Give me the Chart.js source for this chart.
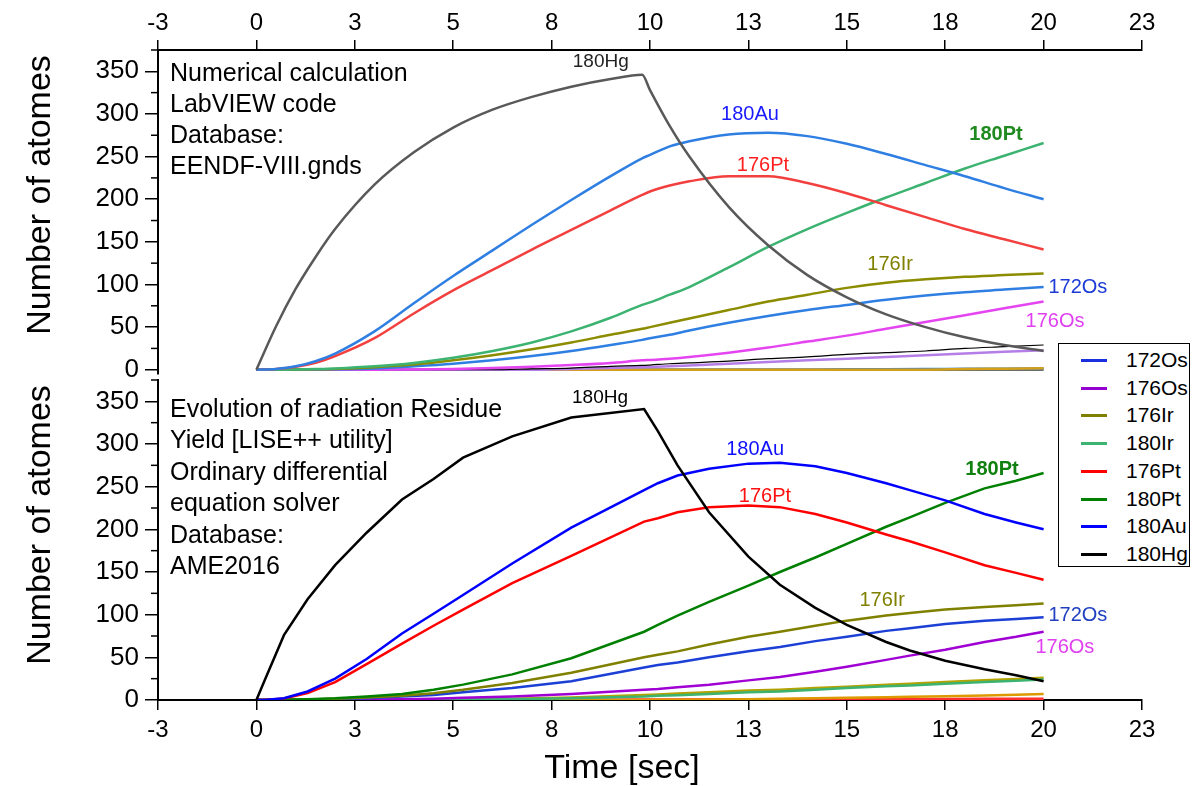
<!DOCTYPE html>
<html><head><meta charset="utf-8">
<script src="https://cdn.jsdelivr.net/npm/chart.js@4.4.1/dist/chart.umd.min.js"></script>
<style>
html,body{margin:0;padding:0;background:#fff;}
#wrap{position:relative;width:1195px;height:786px;overflow:hidden;font-family:"Liberation Sans",Arial,sans-serif;}
canvas{position:absolute;left:0;}
#cTop{top:0;}
#cBot{top:378px;}
#legend{position:absolute;left:1058px;top:343px;width:132px;height:224px;border:1.5px solid #000;background:#fff;box-sizing:border-box;}
.li{position:absolute;left:0;width:130px;height:22px;}
.li span.ln{position:absolute;left:22px;top:10px;width:26px;height:3px;}
.li span.tx{position:absolute;left:67px;top:0;font-size:21px;line-height:22px;color:#000;}
</style>
</head><body>
<div id="wrap">
<canvas id="cTop" width="1195" height="378"></canvas>
<canvas id="cBot" width="1195" height="408"></canvas>
<div id="legend"></div>
</div>
<script>
// ---------- axes ----------
const xTickValues = [-2.5,0,2.5,5,7.5,10,12.5,15,17.5,20,22.5];
const xTickLabels = ['-3','0','3','5','8','10','13','15','18','20','23'];
const yTickValues = [0,50,100,150,200,250,300,350];
const yMinorTicks = [25,75,125,175,225,275,325,375];

// ---------- top panel (numerical calculation) ----------
const tTop = [0,0.5,1,1.5,2,3,4,5,6,7,8,9,9.8,10,10.5,11,12,13,14,15,16,17,18,19,20];
const hg180Top = [0,51,95,132,165,217,255,284,305,320,332,341,346,328,286,250,191,146,111,85,65,50,38,29,22];
const au180Top = [0,1,4,10,19,45,78,110,140,170,199,227,248,252,262,268,276,278,274,265,253,240,227,213,200];
const pt176Top = [0,1,3.5,8,16,37,66,93,117,141,164,187,205,209,216,221,227,227,219,207,193,179,165,153,141];
const pt180Top = [0,0,0.3,0.8,1.5,4,8,14,22,32,45,61,76,79,88,97,120,144,165,184,202,219,236,251,266];
const ir176Top = [0,0,0.2,0.5,1,3,6,11,17,24,32,41,48,50,55,60,70,80,88,96,102,106,109,111,113];
const os172Top = [0,0,0,0.2,0.5,1.5,4,7,11,16,22,29,35,37,41,46,55,63,70,76,82,87,91,94,97];
const os176Top = [0,0,0,0,0,0.1,0.3,1,2,3.5,5.5,8,11,11.5,13,15,20,26,33,40,48,56,64,72,80];
const blackTop = [0,0,0,0,0,0,0,0,0,1,2,4,5,5.5,7,8,10,13,15,18,20,22,25,27,29];
const lilacTop = [0,0,0,0,0,0,0,0,0,0,1,2,3,3.2,4,5,7,9,11,13,15,17,19,21,23];
const blueLowTop = [0,0,0,0,0,0,0,0,0,0,0,0,0,0,0,0,0,0,0,0.5,0.7,0.9,1.1,1.3,1.5];
const orangeLowTop = [0,0,0,0,0,0,0,0,0,0,0,0,0,0,0,0,0,0,0,0,0,0,0.8,1.2,1.6];
const zeroTop = [0,0,0,0,0,0,0,0,0,0,0,0,0,0,0,0,0,0,0,0,0,0,0,0,0];

// ---------- bottom panel (LISE++ ODE solver) ----------
const tBot = [0,0.2,0.7,1.3,2,2.8,3.7,4.5,5.25,6.5,8,9.85,10.2,10.7,11.5,12.5,13.3,14.2,15,16,16.6,17.5,18.5,19.3,20];
const hg180Bot = [0,22,76,118,158,196,235,259,284,309,331,341,315,275,220,168,135,108,88,68,58,46,36,29,22];
const au180Bot = [0,0,2,10,25,48,78,101,123,160,202,246,254,263,271,277,278,274,266,254,246,234,218,208,200];
const pt176Bot = [0,0,1.8,8,21,42,66,87,106,137,169,209,213,220,226,228,226,218,208,194,186,173,158,149,141];
const pt180Bot = [0,0,0.3,1,2,4,7,12,18,30,49,80,88,99,115,134,150,167,183,203,214,231,248,257,266];
const ir176Bot = [0,0,0.2,0.6,1.5,3,5,8,12,20,32,50,53,57,65,74,80,87,93,99,102,106,109,111,113];
const os172Bot = [0,0,0.1,0.4,1,2,4,6,9,14,22,38,41,44,50,57,62,69,74,81,84,89,93,95,97];
const os176Bot = [0,0,0,0,0,0.3,0.8,1.5,2.5,4,7,12,13,15,18,23,27,33,39,47,52,59,68,74,80];
const ir180Bot = [0,0,0,0,0,0,0.2,0.3,0.5,1,2,4,5,5.5,7,9,10,12,14,16,17,19,21,22.5,24];
const goldBot = [0,0,0,0,0,0,0.2,0.4,0.7,1.5,3,6,6.5,7.5,9,11,12,14,15.5,18,19,21,23,24.5,26];
const orangeBot = [0,0,0,0,0,0,0,0,0,0,0,0,0.2,0.3,0.6,1,1.4,2,2.5,3.3,3.8,4.5,5.4,6.2,7];
const redLowBot = [0,0,0,0,0,0,0.1,0.1,0.2,0.3,0.4,0.6,0.6,0.7,0.8,0.9,1,1.1,1.1,1.2,1.3,1.3,1.4,1.5,1.5];

// ---------- legend ----------
const legendNames = ['172Os','176Os','176Ir','180Ir','176Pt','180Pt','180Au','180Hg'];
const legendColors = ['#1a2fe0','#9400d0','#808000','#3cb371','#ff0000','#008000','#0000ff','#000000'];

// ---------- text annotations ----------
const topNotes = ['Numerical calculation','LabVIEW code','Database:','EENDF-VIII.gnds'];
const botNotes = ['Evolution of radiation Residue','Yield [LISE++ utility]','Ordinary differential','equation solver','Database:','AME2016'];
const topCurveLabels = [
  {text:'180Hg', t:8.75, v:361, color:'#222222', size:19},
  {text:'180Au', t:12.54, v:299, color:'#1a1aff'},
  {text:'180Pt', t:18.79, v:276, color:'#1f8a1f', bold:true},
  {text:'176Pt', t:12.87, v:239, color:'#ff2020'},
  {text:'176Ir', t:16.1, v:123, color:'#808000'},
  {text:'172Os', t:20.87, v:96, color:'#1c3ad6'},
  {text:'176Os', t:20.29, v:57, color:'#e040f0'}
];
const botCurveLabels = [
  {text:'180Hg', t:8.73, v:354, color:'#000000', size:19},
  {text:'180Au', t:12.67, v:293, color:'#1010ff'},
  {text:'180Pt', t:18.69, v:270, color:'#108010', bold:true},
  {text:'176Pt', t:12.92, v:238, color:'#ff1010'},
  {text:'176Ir', t:15.9, v:117, color:'#808000'},
  {text:'172Os', t:20.87, v:99, color:'#2040c0'},
  {text:'176Os', t:20.54, v:61, color:'#e040f0'}
];

const FONT = '"Liberation Sans", Arial, sans-serif';

function pts(ts, vs){ return ts.map((t,i)=>({x:t, y:vs[i]})); }
function ds(label, ts, vs, color, width){
  return {label, data: pts(ts, vs), borderColor: color, backgroundColor: color, borderWidth: width || 2.5, pointRadius: 0, fill: false};
}

// legend html
const legEl = document.getElementById('legend');
legendNames.forEach((n,i)=>{
  const d = document.createElement('div');
  d.className = 'li';
  d.style.top = (5 + i*27.7) + 'px';
  d.innerHTML = '<span class="ln" style="background:'+legendColors[i]+'"></span><span class="tx">'+n+'</span>';
  legEl.appendChild(d);
});

const decorPlugin = {
  id: 'decor',
  afterDraw(chart, args, o) {
    const ctx = chart.ctx, xs = chart.scales.x, ys = chart.scales.y, ca = chart.chartArea;
    ctx.save();
    ctx.strokeStyle = '#000'; ctx.lineWidth = 1.5;
    yMinorTicks.forEach(v=>{
      if (v > ys.max || v < ys.min) return;
      const py = ys.getPixelForValue(v);
      ctx.beginPath(); ctx.moveTo(ca.left - 7, py); ctx.lineTo(ca.left, py); ctx.stroke();
    });
    ctx.fillStyle = '#000'; ctx.textAlign = 'left'; ctx.textBaseline = 'alphabetic';
    ctx.font = '25px ' + FONT;
    o.notes.forEach((s,i)=> ctx.fillText(s, ca.left + 12, ca.top + o.noteFirst + i*o.noteStep));
    ctx.textAlign = 'center'; ctx.textBaseline = 'middle';
    o.labels.forEach(l=>{
      ctx.font = (l.bold ? 'bold ' : '') + (l.size || 20) + 'px ' + FONT;
      ctx.fillStyle = l.color;
      ctx.fillText(l.text, xs.getPixelForValue(l.t), ys.getPixelForValue(l.v));
    });
    ctx.save();
    ctx.translate(41, o.yTitleY); ctx.rotate(-Math.PI/2);
    ctx.fillStyle = '#000'; ctx.font = '34px ' + FONT; ctx.textAlign='center'; ctx.textBaseline='middle';
    ctx.fillText('Number of atomes', 0, 0);
    ctx.restore();
    if (o.xTitle) {
      ctx.fillStyle = '#000'; ctx.font = '34px ' + FONT; ctx.textAlign='center'; ctx.textBaseline='alphabetic';
      ctx.fillText(o.xTitle, 622, o.xTitleY);
    }
    ctx.restore();
  }
};

function makeOptions(pos, xHeight, yMin, padding, decor, smooth) {
  return {
    responsive: false, animation: false, devicePixelRatio: 1,
    layout: { padding },
    elements: { line: smooth ? { cubicInterpolationMode: 'monotone' } : { tension: 0 } },
    plugins: { legend: { display: false }, tooltip: { enabled: false }, decor },
    scales: {
      x: {
        type: 'linear', position: pos, min: -2.5, max: 22.5,
        afterBuildTicks: s => { s.ticks = xTickValues.map(v=>({value:v})); },
        afterFit: s => { s.height = xHeight; s.paddingLeft = 0; s.paddingRight = 0; s.paddingTop = 0; s.paddingBottom = 0; },
        ticks: { callback: (v,i)=> xTickLabels[i], color: '#000', font: { family: FONT, size: 24 }, padding: pos==='top' ? 2 : 6, maxRotation: 0, autoSkip: false },
        grid: { drawOnChartArea: false, drawTicks: true, tickLength: 10, color: '#000', lineWidth: 1.5 },
        border: { display: true, color: '#000', width: 2 }
      },
      y: {
        type: 'linear', position: 'left', min: yMin, max: 375,
        afterBuildTicks: s => { s.ticks = yTickValues.map(v=>({value:v})); },
        afterFit: s => { s.width = 158; s.paddingTop = 0; s.paddingBottom = 0; s.paddingLeft = 0; s.paddingRight = 0; },
        ticks: { color: '#000', font: { family: FONT, size: 26 }, padding: 6 },
        grid: { drawOnChartArea: false, drawTicks: true, tickLength: 13, color: '#000', lineWidth: 1.5 },
        border: { display: true, color: '#000', width: 2 }
      }
    }
  };
}

new Chart(document.getElementById('cTop'), {
  type: 'line',
  data: { datasets: [
    ds('180Hg', tTop, hg180Top, '#595959'),
    ds('180Au', tTop, au180Top, '#2f7fe3'),
    ds('176Pt', tTop, pt176Top, '#f2403f'),
    ds('180Pt', tTop, pt180Top, '#3cb371'),
    ds('176Ir', tTop, ir176Top, '#8c8c00'),
    ds('172Os', tTop, os172Top, '#2f7fe3'),
    ds('176Os', tTop, os176Top, '#e545f0'),
    ds('black', tTop, blackTop, '#000000', 1.2),
    ds('lilac', tTop, lilacTop, '#b57ee6'),
    ds('orange', tTop, orangeLowTop, '#d4a017'),
    ds('blueLow', tTop, blueLowTop, '#3a80d8'),
    ds('zero', tTop, zeroTop, '#6a6f6a')
  ]},
  options: makeOptions('top', 50, -5, {left:0, right:53, top:0, bottom:4},
    { notes: topNotes, noteFirst: 31, noteStep: 31, labels: topCurveLabels, yTitleY: 195 }, true),
  plugins: [decorPlugin]
});

new Chart(document.getElementById('cBot'), {
  type: 'line',
  data: { datasets: [
    ds('180Hg', tBot, hg180Bot, '#000000'),
    ds('180Au', tBot, au180Bot, '#0000ff'),
    ds('176Pt', tBot, pt176Bot, '#ff0000'),
    ds('180Pt', tBot, pt180Bot, '#008000'),
    ds('176Ir', tBot, ir176Bot, '#808000'),
    ds('172Os', tBot, os172Bot, '#1c3fd6'),
    ds('176Os', tBot, os176Bot, '#a000d4'),
    ds('180Ir', tBot, ir180Bot, '#3cb371'),
    ds('gold', tBot, goldBot, '#b3a200'),
    ds('orange', tBot, orangeBot, '#dd9a00'),
    ds('redLow', tBot, redLowBot, '#ff3030')
  ]},
  options: makeOptions('bottom', 86, 0, {left:0, right:53, top:2, bottom:0},
    { notes: botNotes, noteFirst: 37, noteStep: 31.4, labels: botCurveLabels, yTitleY: 147, xTitle: 'Time [sec]', xTitleY: 400 }, false),
  plugins: [decorPlugin]
});
</script>
</body></html>
